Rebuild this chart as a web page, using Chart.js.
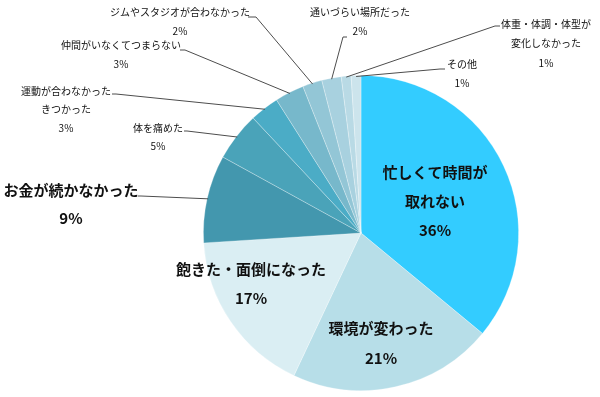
<!DOCTYPE html>
<html>
<head>
<meta charset="utf-8">
<script src="https://cdn.jsdelivr.net/npm/chart.js@4.4.1/dist/chart.umd.min.js"></script>
<style>
  html, body { margin: 0; padding: 0; background: #fff; }
  #wrap { width: 600px; height: 397px; position: relative; }
</style>
</head>
<body>
<div id="wrap"><canvas id="c" width="600" height="397"></canvas></div>
<script>
// ---- data ----
const categories = [
  '忙しくて時間が取れない',
  '環境が変わった',
  '飽きた・面倒になった',
  'お金が続かなかった',
  '体を痛めた',
  '運動が合わなかった きつかった',
  '仲間がいなくてつまらない',
  'ジムやスタジオが合わなかった',
  '通いづらい場所だった',
  '体重・体調・体型が変化しなかった',
  'その他'
];
const percentValues = [36, 21, 17, 9, 5, 3, 3, 2, 2, 1, 1];
const labelLines = [
  ['忙しくて時間が', '取れない'],
  ['環境が変わった'],
  ['飽きた・面倒になった'],
  ['お金が続かなかった'],
  ['体を痛めた'],
  ['運動が合わなかった', 'きつかった'],
  ['仲間がいなくてつまらない'],
  ['ジムやスタジオが合わなかった'],
  ['通いづらい場所だった'],
  ['体重・体調・体型が', '変化しなかった'],
  ['その他']
];

// ---- styles / layout ----
const sliceColors = [
  '#33CCFF', '#B7DEE8', '#DAEEF3', '#4397AE', '#4AA3B9', '#4BACC6',
  '#77B8CB', '#93C6D6', '#A8D1DF', '#B9DAE5', '#CCE4EC'
];
const FONT = '"Noto Sans CJK JP", "Noto Sans", sans-serif';
// per-slice label placement: x center, first-line y, line gap, bold?, size, leader start
const labelLayout = [
  { x: 435, y: 172, gap: 29, bold: true, size: 15 },
  { x: 381, y: 328, gap: 30, bold: true, size: 15 },
  { x: 251, y: 269, gap: 29, bold: true, size: 15 },
  { x: 71,  y: 190, gap: 28, bold: true, size: 15, from: [[138, 196], [141, 196]] },
  { x: 158, y: 128, gap: 18, bold: false, size: 10, from: [[184, 131], [187, 131]] },
  { x: 66,  y: 91,  gap: 18.5, bold: false, size: 10, from: [[112, 94], [116, 94]] },
  { x: 121, y: 45,  gap: 19, bold: false, size: 10, from: [[180, 50], [185, 50]] },
  { x: 180, y: 12,  gap: 19, bold: false, size: 10, from: [[248, 17], [256, 17]] },
  { x: 360, y: 12,  gap: 19, bold: false, size: 10, from: [[347, 37], [343, 37]] },
  { x: 546, y: 24,  gap: 19.5, bold: false, size: 10, from: [[500, 26], [495, 26]] },
  { x: 462, y: 64,  gap: 19, bold: false, size: 10, from: [[445, 69], [440, 69]] }
];

const labelPlugin = {
  id: 'pieLabels',
  afterDatasetsDraw(chart) {
    const ctx = chart.ctx;
    const meta = chart.getDatasetMeta(0);
    ctx.save();
    meta.data.forEach((arc, i) => {
      const L = labelLayout[i];
      const p = arc.getProps(['x', 'y', 'startAngle', 'endAngle', 'outerRadius'], true);
      // leader line
      if (L.from) {
        const mid = (p.startAngle + p.endAngle) / 2;
        const ex = p.x + Math.cos(mid) * (p.outerRadius - 1);
        const ey = p.y + Math.sin(mid) * (p.outerRadius - 1);
        ctx.beginPath();
        ctx.strokeStyle = '#4d4d4d';
        ctx.lineWidth = 1;
        ctx.moveTo(L.from[0][0], L.from[0][1]);
        ctx.lineTo(L.from[1][0], L.from[1][1]);
        ctx.lineTo(ex, ey);
        ctx.stroke();
      }
      const lines = labelLines[i].concat([percentValues[i] + '%']);
      ctx.fillStyle = '#111';
      ctx.textAlign = 'center';
      ctx.textBaseline = 'middle';
      ctx.font = (L.bold ? 'bold ' : '') + L.size + 'px ' + FONT;
      lines.forEach((t, k) => {
        ctx.fillText(t, L.x, L.y + k * L.gap);
      });
    });
    ctx.restore();
  }
};

new Chart(document.getElementById('c'), {
  type: 'pie',
  data: {
    labels: categories,
    datasets: [{
      data: percentValues,
      backgroundColor: sliceColors,
      borderColor: 'rgba(255,255,255,0.35)',
      borderWidth: 0.8
    }]
  },
  options: {
    responsive: false,
    animation: false,
    layout: { padding: { left: 203, right: 81, top: 75, bottom: 6 } },
    plugins: {
      legend: { display: false },
      tooltip: { enabled: false }
    }
  },
  plugins: [labelPlugin]
});
</script>
</body>
</html>
